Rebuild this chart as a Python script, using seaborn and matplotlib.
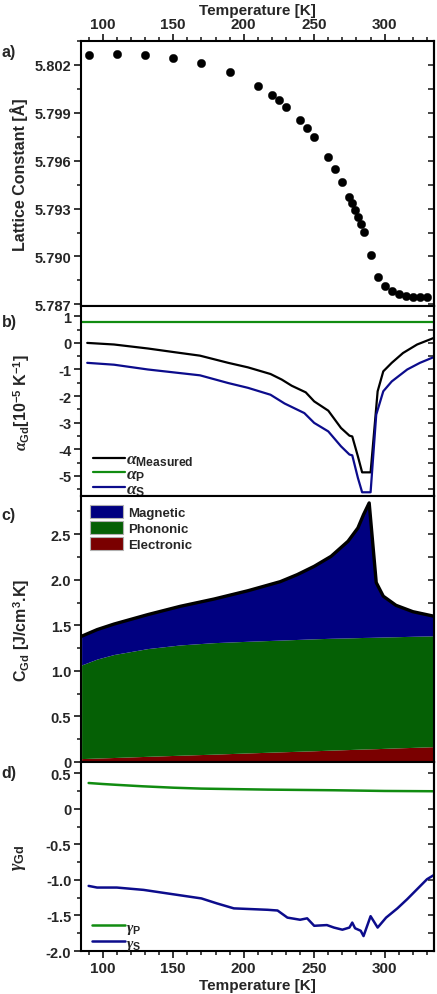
import numpy as np
import pandas as pd
import matplotlib
matplotlib.use('Agg')
import matplotlib.pyplot as plt
import seaborn as sns
from matplotlib.ticker import MultipleLocator, FixedLocator, FormatStrFormatter
from matplotlib.patches import Patch

# ---- a) lattice constant ----
T_a = [90, 110, 130, 150, 170, 190, 210, 220, 225, 230, 240, 245, 250, 260, 265,
       270, 275, 277, 279, 281, 283, 285, 290, 295, 300, 305, 310, 315, 320, 325, 330]
lattice = [5.80263, 5.80267, 5.80260, 5.80244, 5.80210, 5.80158, 5.80070, 5.80010,
           5.79978, 5.79939, 5.79855, 5.79803, 5.79749, 5.79623, 5.79546, 5.79465,
           5.79375, 5.79333, 5.79291, 5.79247, 5.79201, 5.79153, 5.79009, 5.78871,
           5.78814, 5.78783, 5.78762, 5.78752, 5.78748, 5.78745, 5.78745]

# ---- b) thermal expansion ----
T_meas = [89, 108, 132, 151, 169, 189, 203, 219, 227, 234, 244, 250, 260, 269, 275,
          277, 281, 284, 290, 295, 299, 305, 313, 323, 335]
alpha_meas = [0.0, -0.06, -0.21, -0.35, -0.48, -0.75, -0.92, -1.17, -1.38, -1.61,
              -1.86, -2.20, -2.55, -3.20, -3.49, -3.52, -4.27, -4.87, -4.87, -1.82,
              -1.07, -0.75, -0.38, -0.06, 0.19]
T_p = [84, 336]
alpha_p = [0.77, 0.77]
T_s = [89, 108, 132, 169, 189, 203, 219, 229, 243, 250, 260, 269, 275, 277, 281, 284,
       290, 294, 299, 305, 316, 325, 335]
alpha_s = [-0.75, -0.82, -1.00, -1.22, -1.51, -1.69, -1.95, -2.28, -2.64, -3.01, -3.33,
           -3.89, -4.20, -4.23, -5.08, -5.62, -5.62, -2.70, -1.82, -1.45, -1.00, -0.75,
           -0.53]

# ---- c) heat capacity ----
T_c = [85, 96, 108, 132, 155, 179, 203, 226, 238, 250, 262, 274, 281, 285, 289, 294,
       299, 308, 320, 335]
C_total = [1.38, 1.453, 1.514, 1.618, 1.709, 1.789, 1.88, 1.98, 2.057, 2.148, 2.258,
           2.423, 2.569, 2.716, 2.844, 1.97, 1.82, 1.72, 1.65, 1.60]
C_el = [0.037, 0.043, 0.049, 0.062, 0.074, 0.086, 0.099, 0.111, 0.117, 0.123, 0.130,
        0.136, 0.140, 0.142, 0.144, 0.146, 0.149, 0.154, 0.160, 0.168]
C_ph = [1.028, 1.087, 1.131, 1.183, 1.211, 1.224, 1.226, 1.227, 1.228, 1.229, 1.228,
        1.226, 1.225, 1.225, 1.224, 1.224, 1.223, 1.221, 1.220, 1.217]

# ---- d) Grueneisen parameter ----
T_gp = [90, 100, 110, 128, 150, 170, 217, 264, 300, 335]
gamma_p = [0.364, 0.350, 0.338, 0.318, 0.298, 0.285, 0.271, 0.262, 0.252, 0.248]
T_gs = [90, 96, 110, 129, 146, 170, 181, 193, 205, 217, 224, 231, 240, 245, 250, 259,
        264, 270, 275, 277, 279, 283, 285, 290, 295, 301, 309, 316, 323, 330, 335]
gamma_s = [-1.084, -1.107, -1.107, -1.14, -1.19, -1.26, -1.33, -1.40, -1.41, -1.42,
           -1.43, -1.53, -1.56, -1.54, -1.645, -1.635, -1.67, -1.70, -1.67, -1.60,
           -1.68, -1.715, -1.79, -1.51, -1.67, -1.53, -1.40, -1.27, -1.13, -0.99, -0.93]

GREEN = '#118c11'
BLUE = '#0c0c8c'
MAG, PHON, ELEC = '#000080', '#056005', '#7a0000'

sns.set_style('ticks')
plt.rcParams['font.family'] = ['Liberation Sans', 'DejaVu Sans']
plt.rcParams['font.weight'] = 'bold'
plt.rcParams['axes.labelweight'] = 'bold'
plt.rcParams['axes.unicode_minus'] = False
plt.rcParams['mathtext.fontset'] = 'custom'
plt.rcParams['mathtext.rm'] = 'Liberation Sans:bold'
plt.rcParams['mathtext.bf'] = 'Liberation Sans:bold'
plt.rcParams['mathtext.it'] = 'Liberation Serif:italic'
plt.rcParams['axes.linewidth'] = 1.5
plt.rcParams['axes.edgecolor'] = 'black'

fig = plt.figure(figsize=(4.37, 9.95), dpi=100)
L, W = 0.1854, 0.8078
ax_a = fig.add_axes([L, 0.6915, W, 0.2663])
ax_b = fig.add_axes([L, 0.5005, W, 0.1910])
ax_c = fig.add_axes([L, 0.2332, W, 0.2673])
ax_d = fig.add_axes([L, 0.0432, W, 0.1900])
XLIM = (84.6, 335)
TICK_FS = 10.5


def style_axis(ax, major, minor):
    ax.set_xlim(*XLIM)
    ax.yaxis.set_major_locator(MultipleLocator(major))
    ax.yaxis.set_minor_locator(MultipleLocator(minor))
    ax.tick_params(axis='y', which='major', direction='out', length=5, width=1.3,
                   labelsize=TICK_FS, pad=2)
    ax.tick_params(axis='y', which='minor', direction='out', length=3, width=1.2)
    ax.tick_params(axis='x', which='both', bottom=False, top=False,
                   labelbottom=False, labeltop=False)
    sec = ax.secondary_yaxis('right')
    sec.yaxis.set_major_locator(MultipleLocator(minor))
    sec.tick_params(which='both', direction='in', length=4, width=1.2, labelright=False)
    sec.spines['right'].set_linewidth(1.5)
    for s in ax.spines.values():
        s.set_linewidth(1.5)


def style_x(ax, where):
    ax.xaxis.set_major_locator(MultipleLocator(50))
    ax.xaxis.set_minor_locator(MultipleLocator(10))
    if where == 'top':
        ax.tick_params(axis='x', which='both', top=True, labeltop=True, direction='out',
                       labelsize=TICK_FS + 0.5, pad=2)
        ax.xaxis.set_label_position('top')
    else:
        ax.tick_params(axis='x', which='both', bottom=True, labelbottom=True,
                       direction='out', labelsize=TICK_FS + 0.5, pad=2)
    ax.tick_params(axis='x', which='major', length=5, width=1.3)
    ax.tick_params(axis='x', which='minor', length=3, width=1.2)
    ax.set_xlabel('Temperature [K]', fontsize=11, labelpad=2)


# a) lattice constant
sns.scatterplot(x=T_a, y=lattice, ax=ax_a, color='black', s=36, edgecolor='black',
                linewidth=0.3, zorder=3)
style_axis(ax_a, 0.003, 0.0015)
ax_a.set_ylim(5.7869, 5.8035)
ax_a.yaxis.set_major_formatter(FormatStrFormatter('%.3f'))
style_x(ax_a, 'top')
ax_a.set_ylabel('Lattice Constant [Å]', fontsize=11.5)
ax_a.yaxis.set_label_coords(-0.15, 0.5)

# b) thermal expansion coefficients
sns.lineplot(x=T_meas, y=alpha_meas, ax=ax_b, color='black', lw=1.6, estimator=None,
             label=r'$\alpha_{\mathbf{Measured}}$')
sns.lineplot(x=T_p, y=alpha_p, ax=ax_b, color=GREEN, lw=1.6, estimator=None,
             label=r'$\alpha_{\mathbf{P}}$')
sns.lineplot(x=T_s, y=alpha_s, ax=ax_b, color=BLUE, lw=1.6, estimator=None,
             label=r'$\alpha_{\mathbf{S}}$')
style_axis(ax_b, 1, 0.5)
ax_b.set_ylim(-5.76, 1.39)
ax_b.set_ylabel(r'$\alpha_{\mathbf{Gd}}$[10$^{\mathbf{-5}}$ K$^{\mathbf{-1}}$]',
                fontsize=11.5)
ax_b.yaxis.set_label_coords(-0.14, 0.5)
ax_b.legend(loc='lower left', frameon=False, fontsize=12.5, handlelength=1.8,
            handletextpad=0.1, labelspacing=-0.1, borderaxespad=0.0,
            bbox_to_anchor=(0.015, -0.045))

# c) heat capacity contributions
el = np.array(C_el)
lat = el + np.array(C_ph)
ax_c.fill_between(T_c, 0, el, color=ELEC, lw=0)
ax_c.fill_between(T_c, el, lat, color=PHON, lw=0)
ax_c.fill_between(T_c, lat, C_total, color=MAG, lw=0)
sns.lineplot(x=T_c, y=C_total, ax=ax_c, color='black', lw=2.4, estimator=None, zorder=4)
style_axis(ax_c, 0.5, 0.25)
ax_c.set_ylim(0, 2.92)
ax_c.yaxis.set_major_locator(FixedLocator([0, 0.5, 1.0, 1.5, 2.0, 2.5]))
ax_c.set_yticklabels(['0', '0.5', '1.0', '1.5', '2.0', '2.5'])
ax_c.set_ylabel(r'C$_{\mathbf{Gd}}$ [J/cm$^{\mathbf{3}}$.K]', fontsize=11.5)
ax_c.yaxis.set_label_coords(-0.14, 0.5)
handles = [Patch(facecolor=MAG, edgecolor='#b0b0b0', lw=0.8),
           Patch(facecolor=PHON, edgecolor='#b0b0b0', lw=0.8),
           Patch(facecolor=ELEC, edgecolor='#b0b0b0', lw=0.8)]
ax_c.legend(handles, ['Magnetic', 'Phononic', 'Electronic'], loc='upper left',
            frameon=False, fontsize=9.5, handlelength=2.5, handleheight=1.15,
            handletextpad=0.4, labelspacing=0.15, borderaxespad=0.3)

# d) Grueneisen parameters
sns.lineplot(x=T_gp, y=gamma_p, ax=ax_d, color=GREEN, lw=1.8, estimator=None,
             label=r'$\gamma_{\mathbf{P}}$')
sns.lineplot(x=T_gs, y=gamma_s, ax=ax_d, color=BLUE, lw=1.8, estimator=None,
             label=r'$\gamma_{\mathbf{S}}$')
style_axis(ax_d, 0.5, 0.25)
ax_d.set_ylim(-2.0, 0.66)
ax_d.yaxis.set_major_locator(FixedLocator([-2.0, -1.5, -1.0, -0.5, 0, 0.5]))
ax_d.set_yticklabels(['-2.0', '-1.5', '-1.0', '-0.5', '0', '0.5'])
style_x(ax_d, 'bottom')
ax_d.set_ylabel(r'$\gamma_{\mathbf{Gd}}$', fontsize=13)
ax_d.yaxis.set_label_coords(-0.15, 0.5)
ax_d.legend(loc='lower left', frameon=False, fontsize=11, handlelength=2.1,
            handletextpad=0.1, labelspacing=0.0, borderaxespad=0.0,
            bbox_to_anchor=(0.015, -0.035))

for lab, y in [('a)', 0.9477), ('b)', 0.6757), ('c)', 0.4824), ('d)', 0.2228)]:
    fig.text(0.004, y, lab, fontsize=11.5, fontweight='bold', va='center', ha='left')

plt.savefig('out.png', dpi=100)
plt.close()
